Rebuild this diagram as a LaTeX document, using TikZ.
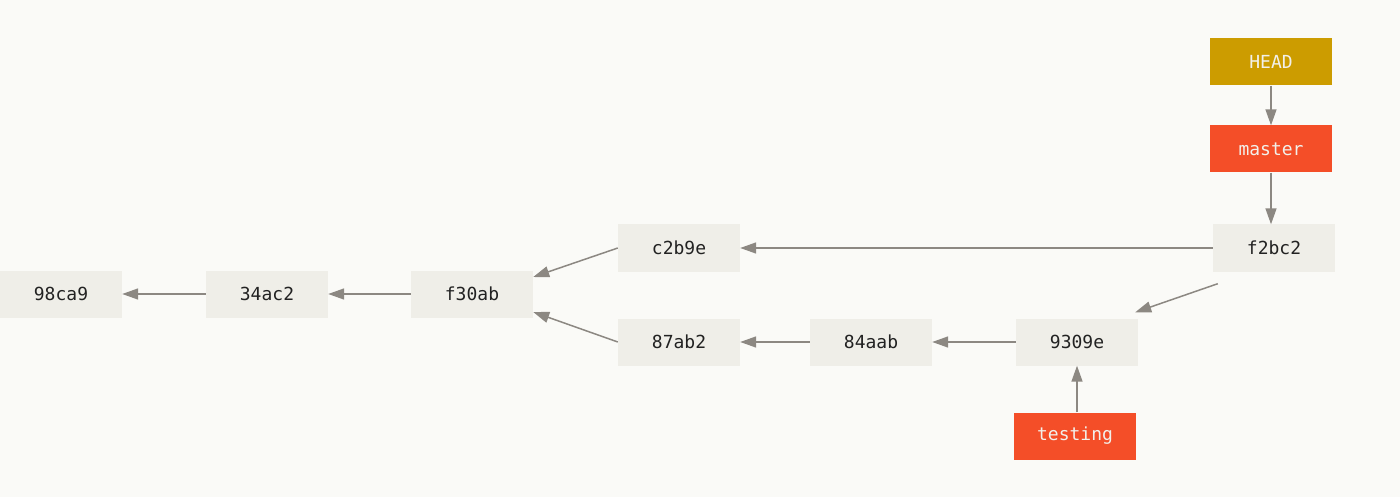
\documentclass[tikz,border=0pt]{standalone}
\usepackage{fontspec}
\setmonofont{DejaVu Sans Mono}
\usetikzlibrary{arrows.meta}
\definecolor{bg}{HTML}{FAFAF7}
\definecolor{commitfill}{HTML}{EFEEE8}
\definecolor{headfill}{HTML}{CC9C00}
\definecolor{branchfill}{HTML}{F44E28}
\definecolor{arrowgray}{HTML}{8C8882}
\definecolor{txt}{HTML}{222222}
\definecolor{lighttxt}{HTML}{F2F0EA}
\tikzset{
  commit/.style={fill=commitfill, minimum width=122pt, minimum height=47pt, inner sep=0pt,
     font=\fontsize{18}{21}\selectfont\ttfamily, text=txt},
  headbox/.style={commit, fill=headfill, text=lighttxt},
  branchbox/.style={commit, fill=branchfill, text=lighttxt},
  arr/.style={draw=arrowgray, line width=1.5pt, -{Triangle[length=16pt,width=11pt]}, arrowgray}
}
\begin{document}
\begin{tikzpicture}[x=1pt,y=-1pt]
\fill[bg] (0,0) rectangle (1400,497);
\useasboundingbox (0,0) rectangle (1400,497);
\node[commit] (98ca9) at (61,294) {98ca9};
\node[commit] (34ac2) at (267,294) {34ac2};
\node[commit] (f30ab) at (472,294) {f30ab};
\node[commit] (c2b9e) at (679,248) {c2b9e};
\node[commit] (87ab2) at (679,342) {87ab2};
\node[commit] (84aab) at (871,342) {84aab};
\node[commit] (9309e) at (1077,342) {9309e};
\node[commit] (f2bc2) at (1274,248) {f2bc2};
\node[headbox] (HEAD) at (1271,62) {HEAD};
\node[branchbox] (master) at (1271,149) {master};
\node[branchbox] (testing) at (1075,436) {testing};
\draw[arr] (34ac2) -- (98ca9);
\draw[arr] (f30ab) -- (34ac2);
\draw[arr] (c2b9e.west) -- ([yshift=17pt]f30ab.east);
\draw[arr] (87ab2.west) -- ([yshift=-18pt]f30ab.east);
\draw[arr] (84aab) -- (87ab2);
\draw[arr] (9309e) -- (84aab);
\draw[arr] (f2bc2) -- (c2b9e);
\draw[arr] ([shift={(5,12)}]f2bc2.south west) -- ([shift={(-3,-6)}]9309e.north east);
\draw[arr] (testing.north -| 9309e.south) -- (9309e.south);
\draw[arr] (HEAD) -- (master);
\draw[arr] (master.south) -- (master.south |- f2bc2.north);
\end{tikzpicture}
\end{document}
